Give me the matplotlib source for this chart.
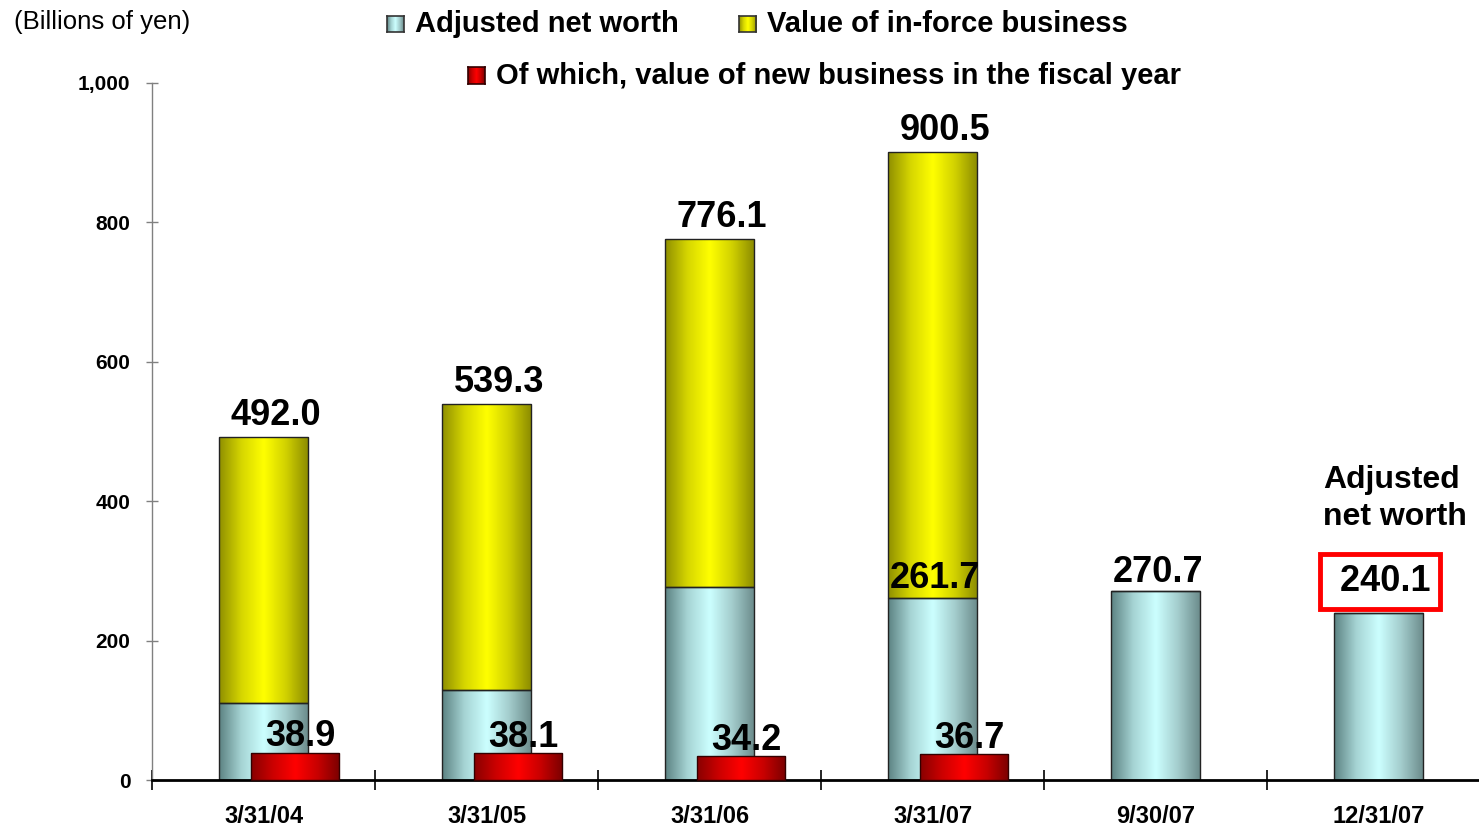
import numpy as np
import matplotlib
matplotlib.use("Agg")
import matplotlib.pyplot as plt
from matplotlib.colors import LinearSegmentedColormap

plt.rcParams['font.family'] = ['Liberation Sans', 'DejaVu Sans']

# ---- data (billions of yen) ----
dates = ["3/31/04", "3/31/05", "3/31/06", "3/31/07", "9/30/07", "12/31/07"]
adjusted_net_worth = [110.9, 128.7, 277.0, 261.7, 270.7, 240.1]
total_embedded_value = [492.0, 539.3, 776.1, 900.5, None, None]
new_business_value = [38.9, 38.1, 34.2, 36.7]

value_in_force = [t - a if t is not None else 0.0
                  for t, a in zip(total_embedded_value, adjusted_net_worth)]

# ---- styling ----
cyan_cmap = LinearSegmentedColormap.from_list(
    "anw", ["#5c8282", "#a6d4d4", "#ccffff", "#a3cccc", "#6a8a8a"])
yellow_cmap = LinearSegmentedColormap.from_list(
    "vif", ["#8f8f00", "#d6d600", "#ffff00", "#d0d000", "#8a8a00"])
red_cmap = LinearSegmentedColormap.from_list(
    "vnb", ["#880000", "#cc0000", "#ff0000", "#c80000", "#7a0000"])
grad = np.linspace(0, 1, 256).reshape(1, -1)

W, H = 1479, 830
fig = plt.figure(figsize=(W / 100, H / 100), dpi=100)
ax = fig.add_axes([152 / W, 50 / H, 1338 / W, 697 / H])
ax.set_xlim(-0.5, 5.5)
ax.set_ylim(0, 1000)


def gradient_bars(bars, cmap, z):
    for b in bars:
        x0, y0 = b.get_x(), b.get_y()
        w, h = b.get_width(), b.get_height()
        if h <= 0:
            continue
        im = ax.imshow(grad, cmap=cmap, aspect="auto",
                       extent=(x0, x0 + w, y0, y0 + h), zorder=z,
                       interpolation="bicubic")
        im.set_clip_path(b)


x = np.arange(len(dates))
bw = 0.4
anw_bars = ax.bar(x, adjusted_net_worth, bw, facecolor="none",
                  edgecolor="#222222", linewidth=1.0, zorder=3)
vif_bars = ax.bar(x, value_in_force, bw, bottom=adjusted_net_worth,
                  facecolor="none", edgecolor="#222222", linewidth=1.0,
                  zorder=3)
gradient_bars(anw_bars, cyan_cmap, 2)
gradient_bars(vif_bars, yellow_cmap, 2)

xr = x[:len(new_business_value)] + 0.14
red_bars = ax.bar(xr, new_business_value, 0.395, facecolor="none",
                  edgecolor="#330000", linewidth=1.0, zorder=6,
                  clip_on=False)
gradient_bars(red_bars, red_cmap, 5)

ax.set_xlim(-0.5, 5.5)
ax.set_ylim(0, 1000)

# ---- value labels ----
lab_fs = 26
for xi, tot in zip(x, total_embedded_value):
    if tot is not None:
        ax.annotate(f"{tot:.1f}", (xi, tot), xytext=(9, 3),
                    textcoords="offset points", ha="center", va="bottom",
                    fontsize=lab_fs, fontweight="bold", zorder=8)

for xi, v in zip(xr, new_business_value):
    ax.annotate(f"{v:.1f}", (xi, v), xytext=(4, -1),
                textcoords="offset points", ha="center", va="bottom",
                fontsize=lab_fs, fontweight="bold", zorder=8)

ax.annotate(f"{adjusted_net_worth[3]:.1f}", (x[3], adjusted_net_worth[3]),
            xytext=(2, 1), textcoords="offset points", ha="center",
            va="bottom", fontsize=lab_fs, fontweight="bold", zorder=8)
ax.annotate(f"{adjusted_net_worth[4]:.1f}", (x[4], adjusted_net_worth[4]),
            xytext=(2, 1), textcoords="offset points", ha="center",
            va="bottom", fontsize=lab_fs, fontweight="bold", zorder=8)
ax.annotate(f" {adjusted_net_worth[5]:.1f}", (x[5], adjusted_net_worth[5]),
            xytext=(1, 10), textcoords="offset points", ha="center",
            va="bottom", fontsize=lab_fs, fontweight="bold", zorder=8,
            bbox=dict(boxstyle="square,pad=0.28", facecolor="white",
                      edgecolor="#ff0000", linewidth=3.5))
ax.annotate("Adjusted\nnet worth", (x[5], 400), xytext=(-40, -22),
            textcoords="offset points", ha="left", va="bottom",
            fontsize=23, fontweight="bold", linespacing=1.3)

# ---- axes ----
for s in ("top", "right"):
    ax.spines[s].set_visible(False)
ax.spines["left"].set_color("#808080")
ax.spines["left"].set_linewidth(1.0)
ax.spines["bottom"].set_color("black")
ax.spines["bottom"].set_linewidth(2.0)
ax.spines["bottom"].set_zorder(4)

ax.set_yticks([0, 200, 400, 600, 800, 1000])
ax.set_yticklabels(["0", "200", "400", "600", "800", "1,000"],
                   fontsize=15, fontweight="bold")
ax.tick_params(axis="y", direction="inout", length=9, width=1,
               color="#808080", pad=11)
ax.set_xticks(x)
ax.set_xticklabels(dates, fontsize=17, fontweight="bold")
ax.tick_params(axis="x", which="major", length=0, pad=18)
ax.set_xticks(np.arange(-0.5, 5.6, 1.0), minor=True)
ax.tick_params(axis="x", which="minor", direction="inout", length=14,
               width=1.2, color="black")

fig.text(14 / W, 1 - 22 / H, "(Billions of yen)", fontsize=18.5,
         va="center", ha="left")

# ---- legend ----
def legend_entry(px, py, cmap, edge, label):
    sq = 17
    ax_l = fig.add_axes([px / W, 1 - (py + sq / 2) / H, sq / W, sq / H])
    ax_l.imshow(grad, cmap=cmap, aspect="auto", extent=(0, 1, 0, 1))
    ax_l.set_xticks([])
    ax_l.set_yticks([])
    for sp in ax_l.spines.values():
        sp.set_color(edge)
        sp.set_linewidth(1.2)
    fig.text((px + 28) / W, 1 - py / H, label, fontsize=21,
             fontweight="bold", va="center", ha="left")


legend_entry(387, 24, cyan_cmap, "#333333", "Adjusted net worth")
legend_entry(739, 24, yellow_cmap, "#333333", "Value of in-force business")
legend_entry(468, 76, red_cmap, "#330000",
             "Of which, value of new business in the fiscal year")

fig.savefig("out.png", dpi=100)
